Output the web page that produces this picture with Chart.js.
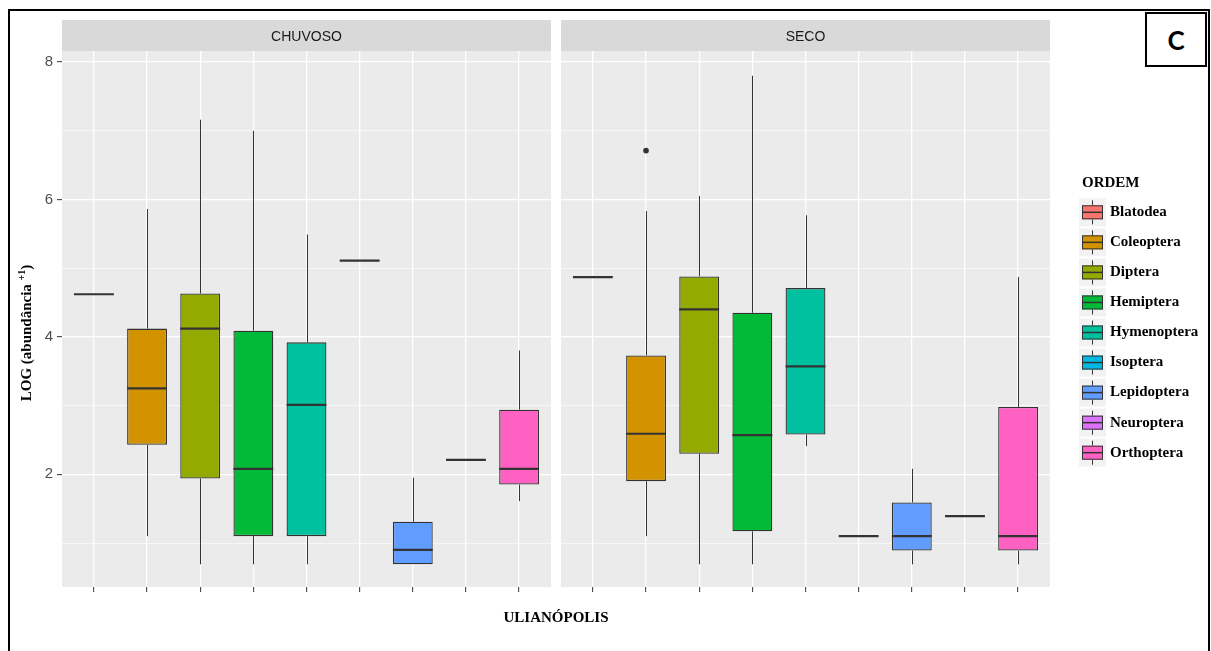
<!DOCTYPE html>
<html>
<head>
<meta charset="utf-8">
<script src="https://cdn.jsdelivr.net/npm/chart.js@4.4.0/dist/chart.umd.min.js"></script>
<style>
  html, body { margin:0; padding:0; background:#fff; width:1211px; height:651px; overflow:hidden; }
  body { position:relative; }
  canvas { position:absolute; top:0; }
  #cA { left:0; }
  #cB { left:556px; }
  #frame { position:absolute; left:8px; top:9px; width:1202px; height:700px; border:2px solid #000; box-sizing:border-box; pointer-events:none; }
  #tag { position:absolute; left:1145px; top:12px; width:62px; height:55px; border:2px solid #000; box-sizing:border-box; background:#fff;
         display:flex; align-items:center; justify-content:center; font:bold 26px Lato, "Open Sans", sans-serif; color:#000; }
  #xtitle { position:absolute; left:456px; width:200px; top:609px; text-align:center; font:bold 15px "Liberation Serif", serif; color:#000; }
  #ytitle { position:absolute; left:25px; top:333px; width:240px; margin-left:-120px; margin-top:-9px; height:18px; line-height:18px; text-align:center;
            transform:rotate(-90deg); font:bold 15px "Liberation Serif", serif; color:#000; white-space:nowrap; }
  #ytitle sup { font-size:10px; }
</style>
</head>
<body>
<canvas id="cA" width="556" height="651"></canvas>
<canvas id="cB" width="655" height="651"></canvas>
<div id="frame"></div>
<div id="tag">C</div>
<div id="xtitle">ULIANÓPOLIS</div>
<div id="ytitle">LOG (abundância <sup>+1</sup>)</div>
<script>
// ---------- data ----------
const ORDENS = ['Blatodea','Coleoptera','Diptera','Hemiptera','Hymenoptera','Isoptera','Lepidoptera','Neuroptera','Orthoptera'];
const PERIODOS = ['CHUVOSO','SECO'];

const CHUVOSO_MIN = [4.62, 1.10, 0.69, 0.69, 0.69, 5.11, 0.69, 2.21, 1.61];
const CHUVOSO_Q1  = [4.62, 2.43, 1.94, 1.10, 1.10, 5.11, 0.69, 2.21, 1.85];
const CHUVOSO_MED = [4.62, 3.25, 4.12, 2.08, 3.01, 5.11, 0.90, 2.21, 2.08];
const CHUVOSO_Q3  = [4.62, 4.12, 4.63, 4.09, 3.92, 5.11, 1.31, 2.21, 2.94];
const CHUVOSO_MAX = [4.62, 5.86, 7.16, 7.00, 5.49, 5.11, 1.95, 2.21, 3.80];

const SECO_MIN = [4.87, 1.10, 0.69, 0.69, 2.41, 1.10, 0.69, 1.39, 0.69];
const SECO_Q1  = [4.87, 1.90, 2.30, 1.17, 2.58, 1.10, 0.89, 1.39, 0.89];
const SECO_MED = [4.87, 2.59, 4.40, 2.57, 3.57, 1.10, 1.10, 1.39, 1.10];
const SECO_Q3  = [4.87, 3.73, 4.88, 4.35, 4.71, 1.10, 1.59, 1.39, 2.98];
const SECO_MAX = [4.87, 5.83, 6.05, 7.80, 5.77, 1.10, 2.08, 1.39, 4.87];

const SECO_OUTLIER_ORDEM = ['Coleoptera'];
const SECO_OUTLIER_VALOR = [6.71];

const Y_TICKS = [2, 4, 6, 8];
const Y_MINOR = [1, 3, 5, 7];

// ---------- styles ----------
const COLORS = ['#F8766D','#D39200','#93AA00','#00BA38','#00C19F','#00B9E3','#619CFF','#DB72FB','#FF61C3'];
const LINE = '#333333';
const BOX_W = 0.75;

function facetPlugin(label, st, isRight) {
  return {
    id: 'facet',
    beforeDraw(chart) {
      const { ctx, chartArea: a } = chart;
      ctx.save();
      ctx.fillStyle = '#EBEBEB';
      ctx.fillRect(a.left, a.top, a.right - a.left, a.bottom - a.top);
      ctx.fillStyle = '#D9D9D9';
      ctx.fillRect(a.left, a.top - 31, a.right - a.left, 31);
      ctx.fillStyle = '#1A1A1A';
      ctx.font = '14px "Liberation Sans", Arial, sans-serif';
      ctx.textAlign = 'center';
      ctx.textBaseline = 'middle';
      ctx.fillText(label, (a.left + a.right) / 2, a.top - 13.5);
      ctx.restore();
    },
    beforeDatasetsDraw(chart) {
      const { ctx } = chart;
      const xs = chart.scales.x, ys = chart.scales.y;
      ctx.save();
      ctx.strokeStyle = LINE;
      ctx.lineWidth = 1;
      ORDENS.forEach((o, i) => {
        const x = Math.round(xs.getPixelForValue(i)) + 0.5;
        if (st.max[i] > st.q3[i]) {
          ctx.beginPath();
          ctx.moveTo(x, ys.getPixelForValue(st.q3[i]));
          ctx.lineTo(x, ys.getPixelForValue(st.max[i]));
          ctx.stroke();
        }
        if (st.min[i] < st.q1[i]) {
          ctx.beginPath();
          ctx.moveTo(x, ys.getPixelForValue(st.q1[i]));
          ctx.lineTo(x, ys.getPixelForValue(st.min[i]));
          ctx.stroke();
        }
      });
      ctx.restore();
    },
    afterDatasetsDraw(chart) {
      const { ctx } = chart;
      const xs = chart.scales.x, ys = chart.scales.y;
      ctx.save();
      ctx.strokeStyle = LINE;
      ctx.lineWidth = 2.2;
      ORDENS.forEach((o, i) => {
        const x0 = xs.getPixelForValue(i - BOX_W / 2);
        const x1 = xs.getPixelForValue(i + BOX_W / 2);
        const y = ys.getPixelForValue(st.med[i]);
        ctx.beginPath();
        ctx.moveTo(x0, y);
        ctx.lineTo(x1, y);
        ctx.stroke();
      });
      ctx.restore();
    },
    afterDraw(chart) {
      if (!isRight) return;
      const { ctx, chartArea: a } = chart;
      ctx.save();
      const lx = a.right + 29;
      ctx.fillStyle = '#000';
      ctx.font = 'bold 15px "Liberation Serif", serif';
      ctx.textAlign = 'left';
      ctx.textBaseline = 'middle';
      ctx.fillText('ORDEM', lx + 3, a.top + 132);
      ORDENS.forEach((o, i) => {
        const cy = a.top + 161.3 + i * 30.05;
        ctx.fillStyle = '#F2F2F2';
        ctx.fillRect(lx, cy - 14, 27, 28);
        ctx.strokeStyle = LINE;
        ctx.lineWidth = 1;
        const cx = lx + 13.5;
        ctx.beginPath();
        ctx.moveTo(cx, cy - 12); ctx.lineTo(cx, cy - 7);
        ctx.moveTo(cx, cy + 7); ctx.lineTo(cx, cy + 12);
        ctx.stroke();
        ctx.fillStyle = COLORS[i];
        ctx.fillRect(lx + 3, cy - 7, 21, 14);
        ctx.strokeRect(lx + 3.5, cy - 6.5, 20, 13);
        ctx.lineWidth = 1.5;
        ctx.beginPath();
        ctx.moveTo(lx + 3, cy); ctx.lineTo(lx + 24, cy);
        ctx.stroke();
        ctx.fillStyle = '#000';
        ctx.fillText(o, lx + 31, cy);
      });
      ctx.restore();
    }
  };
}

function makeChart(canvasId, label, st, outlierOrdem, outlierValor, isRight) {
  const boxData = ORDENS.map((o, i) => st.q3[i] > st.q1[i] ? { x: i, y: [st.q1[i], st.q3[i]] } : null).filter(Boolean);
  const datasets = [{
    type: 'bar',
    label: label,
    data: boxData,
    backgroundColor: c => (c.raw ? COLORS[c.raw.x] : '#999'),
    borderColor: LINE,
    borderWidth: 1.3,
    borderSkipped: false,
    grouped: false,
    barPercentage: BOX_W,
    categoryPercentage: 1,
    order: 2
  }];
  if (outlierOrdem.length) {
    datasets.push({
      type: 'scatter',
      label: 'outliers',
      data: outlierOrdem.map((o, k) => ({ x: ORDENS.indexOf(o), y: outlierValor[k] })),
      pointRadius: 2.8,
      pointBackgroundColor: LINE,
      pointBorderWidth: 0,
      order: 1
    });
  }
  return new Chart(document.getElementById(canvasId), {
    type: 'bar',
    data: { datasets },
    options: {
      responsive: false,
      animation: false,
      devicePixelRatio: 1,
      layout: { padding: { top: 51, bottom: 0, left: isRight ? 5 : 0, right: isRight ? 161 : 5 } },
      plugins: { legend: { display: false }, tooltip: { enabled: false } },
      scales: {
        x: {
          type: 'linear',
          offset: false,
          min: -0.6,
          max: ORDENS.length - 1 + 0.6,
          afterBuildTicks: s => { s.ticks = ORDENS.map((o, i) => ({ value: i })); },
          grid: { offset: false, color: '#FFFFFF', lineWidth: 1.3, drawTicks: true, tickLength: 5, tickColor: LINE, tickWidth: 1 },
          border: { display: false },
          ticks: { display: false },
          afterFit: s => { s.height = 64; }
        },
        y: {
          type: 'linear',
          min: 0.36,
          max: 8.16,
          afterBuildTicks: s => { s.ticks = [...Y_MINOR, ...Y_TICKS].sort((a, b) => a - b).map(v => ({ value: v })); },
          grid: {
            color: '#FFFFFF',
            lineWidth: c => (c.tick && Y_TICKS.includes(c.tick.value) ? 1.3 : 0.6),
            drawTicks: !isRight,
            tickLength: 5,
            tickWidth: 1,
            tickColor: c => (c.tick && Y_TICKS.includes(c.tick.value) ? LINE : 'rgba(0,0,0,0)')
          },
          border: { display: false },
          ticks: {
            display: !isRight,
            padding: 4,
            color: '#4D4D4D',
            font: { family: '"Liberation Sans", Arial, sans-serif', size: 15 },
            callback: v => (Y_TICKS.includes(v) ? String(v) : '')
          },
          afterFit: s => { s.width = isRight ? 0 : 62; }
        }
      }
    },
    plugins: [facetPlugin(label, st, isRight)]
  });
}

makeChart('cA', PERIODOS[0],
  { min: CHUVOSO_MIN, q1: CHUVOSO_Q1, med: CHUVOSO_MED, q3: CHUVOSO_Q3, max: CHUVOSO_MAX }, [], [], false);
makeChart('cB', PERIODOS[1],
  { min: SECO_MIN, q1: SECO_Q1, med: SECO_MED, q3: SECO_Q3, max: SECO_MAX }, SECO_OUTLIER_ORDEM, SECO_OUTLIER_VALOR, true);
</script>
</body>
</html>
